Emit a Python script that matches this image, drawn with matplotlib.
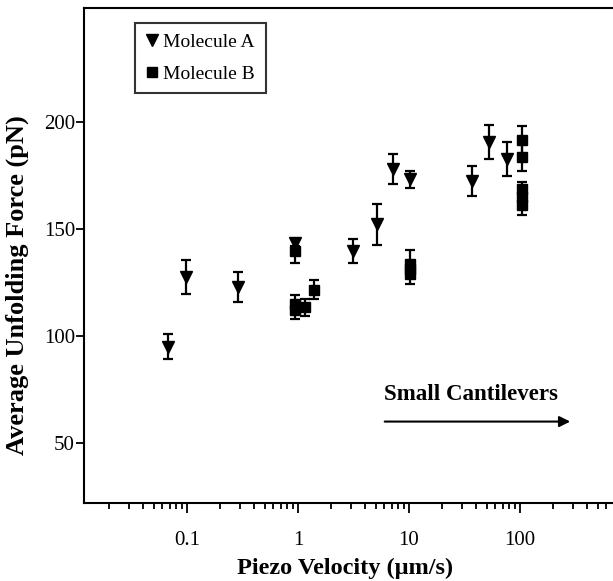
import matplotlib
matplotlib.use("Agg")
import matplotlib.pyplot as plt
from matplotlib.lines import Line2D
from matplotlib.ticker import LogLocator, FixedLocator, NullFormatter

plt.rcParams['font.family'] = ['Liberation Serif', 'DejaVu Serif']

# Molecule A (triangles)
vel_a = [0.067, 0.098, 0.29, 0.93, 3.1, 5.2, 7.2, 10.3, 37, 53, 76]
force_a = [95, 127.5, 123, 143.5, 139.5, 152, 178, 173, 172.5, 190.5, 182.5]
err_a = [6, 8, 7, 1.5, 5.5, 9.5, 7, 4, 7, 8, 8]

# Molecule B (squares)
vel_b = [0.93, 0.93, 0.93, 1.15, 1.4, 10.2, 10.2, 10.2, 105, 105, 105, 105, 105]
force_b = [139.5, 115, 112, 113.3, 121.5, 133.5, 131, 129, 191.5, 183.5, 168.5, 165, 161]
err_b = [5.5, 4, 4, 4, 4.5, 6.5, 3, 5, 6.5, 6.5, 3.3, 3, 4.5]

W, H = 613, 581
fig = plt.figure(figsize=(W / 100, H / 100), dpi=100)
ax = fig.add_axes([84 / W, 1 - 503 / H, (631 - 84) / W, (503 - 8) / H])

ax.errorbar(vel_a, force_a, yerr=err_a, fmt='v', color='black', ms=8,
            elinewidth=1.6, capsize=3.5, capthick=1.6)
ax.errorbar(vel_b, force_b, yerr=err_b, fmt='s', color='black', ms=6.5,
            elinewidth=1.6, capsize=3.5, capthick=1.6)

ax.set_xscale('log')
ax.set_xlim(0.0118, 1000)
ax.set_ylim(22, 253)

ax.set_yticks([50, 100, 150, 200])
ax.xaxis.set_major_locator(FixedLocator([0.1, 1, 10, 100]))
ax.set_xticklabels(['0.1', '1', '10', '100'])
ax.xaxis.set_minor_locator(LogLocator(base=10, subs=range(2, 10)))
ax.xaxis.set_minor_formatter(NullFormatter())

for s in ['top', 'bottom', 'left', 'right']:
    ax.spines[s].set_linewidth(1.5)

ax.tick_params(axis='y', which='major', direction='out', length=6, width=1.3,
               labelsize=15, pad=0.5, right=False)
ax.tick_params(axis='x', which='major', direction='out', length=7, width=1.3,
               labelsize=15, pad=13, top=False)
ax.tick_params(axis='x', which='minor', direction='out', length=4.5, width=1.3,
               top=False)

ax.set_xlabel('Piezo Velocity (μm/s)', fontsize=17.5, fontweight='bold')
ax.xaxis.set_label_coords((345 - 84) / (631 - 84), -0.11)
ax.set_ylabel('Average Unfolding Force (pN)', fontsize=19, fontweight='bold')
ax.yaxis.set_label_coords(-0.101, 0.44)

handles = [Line2D([], [], marker='v', ls='none', color='black', ms=8),
           Line2D([], [], marker='s', ls='none', color='black', ms=6.5)]
leg = ax.legend(handles, ['Molecule A', 'Molecule B'], loc='upper left',
                bbox_to_anchor=(135 / W, 1 - 23 / H), bbox_transform=fig.transFigure,
                fontsize=14, frameon=True, fancybox=False, handlelength=0.6,
                handletextpad=0.3, borderpad=0.55, labelspacing=0.7,
                borderaxespad=0)
leg.get_frame().set_edgecolor('black')
leg.get_frame().set_linewidth(1.5)

ax.text(6.0, 72.5, 'Small Cantilevers', fontsize=16.5, fontweight='bold',
        va='center', ha='left')
ax.annotate('', xy=(300, 60), xytext=(5.7, 60),
            arrowprops=dict(arrowstyle='-|>', lw=1.5, color='black',
                            mutation_scale=16))

fig.savefig('out.png', dpi=100)
